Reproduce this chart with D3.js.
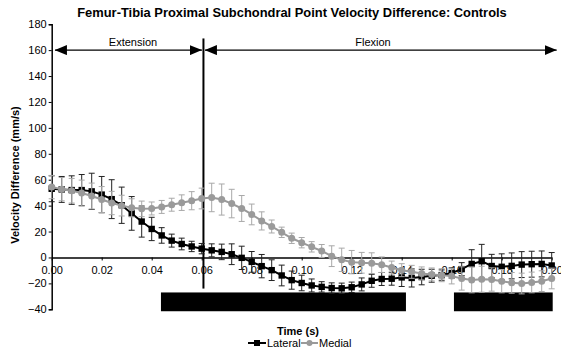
<!DOCTYPE html>
<meta charset="utf-8">
<script src="https://d3js.org/d3.v7.min.js"></script>
<style>
  body { margin: 0; background: #fff; }
  text { font-family: "Liberation Sans", Arial, sans-serif; }
</style>
<body>
<div id="vis"></div>
<script>
// time points (s), every 0.004 s
var times = d3.range(0, 51).map(function(i){ return +(i * 0.004).toFixed(3) })

// lateral velocity difference (mm/s) and error
var lateral = [53, 52.5, 52, 52, 51, 48.5, 45, 40.3, 34, 27.7,
  22, 17, 13, 10.4, 8.5, 6.8, 5.5, 4.3, 2.5, -0.3,
  -3.4, -6.7, -9.8, -13.9, -17.5, -19.7, -21.6, -22.7, -23.6, -23.8,
  -23, -20.8, -18, -16.6, -16.4, -15.4, -15.8, -15.1, -14.1, -13.6,
  -12, -9, -5, -2.9, -6.6, -7.2, -6.5, -5.5, -5.2, -5, -6.2]
var lateralErr = [10, 10, 11, 12, 14, 14, 15, 14, 13, 12,
  9, 6, 5, 4.5, 4, 4, 5, 6, 8, 9,
  8, 9, 8, 8, 7, 6, 5, 4, 4, 4,
  4, 5, 5, 5, 5, 7, 7, 6, 5, 4,
  4, 5, 11, 13, 9, 10, 10, 10, 10, 10, 10]

// medial velocity difference (mm/s) and error
var medial = [54.3, 52.7, 51.5, 49.7, 47.4, 44.7, 42, 40, 38.3, 37.5,
  37.8, 39, 40.7, 42.3, 43.8, 45.5, 46.3, 44.7, 41.6, 37.8,
  33.2, 28.2, 23.9, 19.4, 14.8, 11.4, 8.2, 5, 1, -1.8,
  -3.6, -4.1, -4.4, -5.6, -7.8, -9.8, -11.1, -12.3, -13.1, -13.7,
  -14.4, -16.2, -17.3, -16.8, -17, -18.3, -19.6, -20.1, -19.3, -18.3, -16.2]
var medialErr = [9, 9, 9.5, 10, 10, 10, 9, 8, 7, 6,
  5, 5, 5, 6, 7, 8, 11, 12, 11, 10,
  8, 7, 5, 4, 4, 4, 4, 5, 8, 9,
  9, 8, 8, 6, 5, 5, 5, 5, 5, 5,
  6, 9, 10, 10, 9, 9, 8, 8, 8, 8, 8]

// tick labels
var xTicks = [0, 0.02, 0.04, 0.06, 0.08, 0.10, 0.12, 0.14, 0.16, 0.18, 0.20]
var yTicks = [-40, -20, 0, 20, 40, 60, 80, 100, 120, 140, 160, 180]

// phases and significance bars
var phases = [
  {name: "Extension", start: 0.0013, end: 0.0601},
  {name: "Flexion", start: 0.0613, end: 0.202}
]
var phaseBoundary = 0.0607
var sigBars = [[0.0437, 0.1417], [0.1609, 0.2004]]

var width = 561, height = 357

var svg = d3.select("#vis")
  .append("svg")
    .attr("width", width)
    .attr("height", height)

var x = d3.scaleLinear()
  .domain([0, 0.2])
  .range([51.7, 551.7])
var y = d3.scaleLinear()
  .domain([-40, 180])
  .range([309.3, 24.2])

// arrow marker
var defs = svg.append("defs")
defs.append("marker")
    .attr("id", "arrow")
    .attr("viewBox", "0 0 12 10")
    .attr("refX", 12)
    .attr("refY", 5)
    .attr("markerUnits", "userSpaceOnUse")
    .attr("markerWidth", 12)
    .attr("markerHeight", 10)
    .attr("orient", "auto-start-reverse")
  .append("path")
    .attr("d", "M0,0L12,5L0,10Z")
    .attr("fill", "black")

// title
svg.append("text")
    .attr("x", 292)
    .attr("y", 17)
    .attr("text-anchor", "middle")
    .style("font-size", "12.9px")
    .style("font-weight", "bold")
    .text("Femur-Tibia Proximal Subchondral Point Velocity Difference: Controls")

// y axis
svg.append("g")
    .attr("transform", "translate(" + x(0) + ",0)")
    .call(d3.axisLeft(y).tickValues(yTicks).tickSize(3).tickFormat(d3.format("d")))
    .call(function(g){
      g.select(".domain").attr("stroke-width", 1.5)
      g.selectAll("text").style("font-size", "11px").attr("x", -5)
    })

svg.append("text")
    .attr("transform", "translate(19,175) rotate(-90)")
    .attr("text-anchor", "middle")
    .style("font-size", "11px")
    .style("font-weight", "bold")
    .text("Velocity Difference (mm/s)")

// x axis at zero
svg.append("g")
    .attr("transform", "translate(0," + y(0) + ")")
    .call(d3.axisBottom(x).tickValues(xTicks).tickSize(3).tickSizeOuter(0).tickFormat(d3.format(".2f")))
    .call(function(g){
      g.select(".domain").attr("stroke-width", 1.5)
      g.selectAll("text").style("font-size", "11px").attr("dy", "0.95em")
    })

svg.append("text")
    .attr("x", 298)
    .attr("y", 335)
    .attr("text-anchor", "middle")
    .style("font-size", "11px")
    .style("font-weight", "bold")
    .text("Time (s)")

// significance bars
svg.selectAll("sig")
  .data(sigBars)
  .enter()
  .append("rect")
    .attr("x", function(d){ return x(d[0]) })
    .attr("width", function(d){ return x(d[1]) - x(d[0]) })
    .attr("y", y(-27))
    .attr("height", y(-41.5) - y(-27))
    .attr("fill", "black")

// phase boundary and arrows
svg.append("line")
    .attr("x1", x(phaseBoundary)).attr("x2", x(phaseBoundary))
    .attr("y1", y(169)).attr("y2", y(-24))
    .attr("stroke", "black")
    .attr("stroke-width", 2)

svg.selectAll("phase")
  .data(phases)
  .enter()
  .append("line")
    .attr("x1", function(d){ return x(d.start) })
    .attr("x2", function(d){ return x(d.end) })
    .attr("y1", y(160))
    .attr("y2", y(160))
    .attr("stroke", "black")
    .attr("stroke-width", 1.3)
    .attr("marker-start", "url(#arrow)")
    .attr("marker-end", "url(#arrow)")

svg.selectAll("phaselabel")
  .data(phases)
  .enter()
  .append("text")
    .attr("x", function(d){ return d.name == "Extension" ? 133 : 373 })
    .attr("y", y(160) - 4)
    .attr("text-anchor", "middle")
    .style("font-size", "11px")
    .text(function(d){ return d.name })

// series
var series = [
  {name: "Lateral", values: lateral, err: lateralErr, color: "black", errColor: "#222", shape: "square"},
  {name: "Medial", values: medial, err: medialErr, color: "#9a9a9a", errColor: "#a8a8a8", shape: "circle"}
]

var line = d3.line()
  .x(function(d){ return x(d.t) })
  .y(function(d){ return y(d.v) })

series.forEach(function(s){
  var pts = times.map(function(t, i){ return {t: t, v: s.values[i], e: s.err[i]} })
  var g = svg.append("g")

  // error bars
  var eb = g.selectAll("err")
    .data(pts)
    .enter()
    .append("g")
      .attr("stroke", s.errColor)
      .attr("stroke-width", 1)
  eb.append("line")
    .attr("x1", function(d){ return x(d.t) }).attr("x2", function(d){ return x(d.t) })
    .attr("y1", function(d){ return y(d.v + d.e) }).attr("y2", function(d){ return y(d.v - d.e) })
  eb.append("line")
    .attr("x1", function(d){ return x(d.t) - 3 }).attr("x2", function(d){ return x(d.t) + 3 })
    .attr("y1", function(d){ return y(d.v + d.e) }).attr("y2", function(d){ return y(d.v + d.e) })
  eb.append("line")
    .attr("x1", function(d){ return x(d.t) - 3 }).attr("x2", function(d){ return x(d.t) + 3 })
    .attr("y1", function(d){ return y(d.v - d.e) }).attr("y2", function(d){ return y(d.v - d.e) })

  g.append("path")
    .datum(pts)
    .attr("d", line)
    .attr("fill", "none")
    .attr("stroke", s.color)
    .attr("stroke-width", 2)

  if (s.shape == "square") {
    g.selectAll("pt")
      .data(pts)
      .enter()
      .append("rect")
        .attr("x", function(d){ return x(d.t) - 3.2 })
        .attr("y", function(d){ return y(d.v) - 3.2 })
        .attr("width", 6.4)
        .attr("height", 6.4)
        .attr("fill", s.color)
  } else {
    g.selectAll("pt")
      .data(pts)
      .enter()
      .append("circle")
        .attr("cx", function(d){ return x(d.t) })
        .attr("cy", function(d){ return y(d.v) })
        .attr("r", 3.5)
        .attr("fill", s.color)
  }
})

// legend
var legend = svg.append("g")
legend.append("line")
    .attr("x1", 248).attr("x2", 266).attr("y1", 343).attr("y2", 343)
    .attr("stroke", "black").attr("stroke-width", 2)
legend.append("rect")
    .attr("x", 254).attr("y", 340).attr("width", 6).attr("height", 6)
    .attr("fill", "black")
legend.append("text")
    .attr("x", 267).attr("y", 347)
    .style("font-size", "11px")
    .text("Lateral")
legend.append("line")
    .attr("x1", 301).attr("x2", 318).attr("y1", 343).attr("y2", 343)
    .attr("stroke", "#9a9a9a").attr("stroke-width", 2)
legend.append("circle")
    .attr("cx", 309.5).attr("cy", 343).attr("r", 3)
    .attr("fill", "#9a9a9a")
legend.append("text")
    .attr("x", 319).attr("y", 347)
    .style("font-size", "11px")
    .text("Medial")
</script>
